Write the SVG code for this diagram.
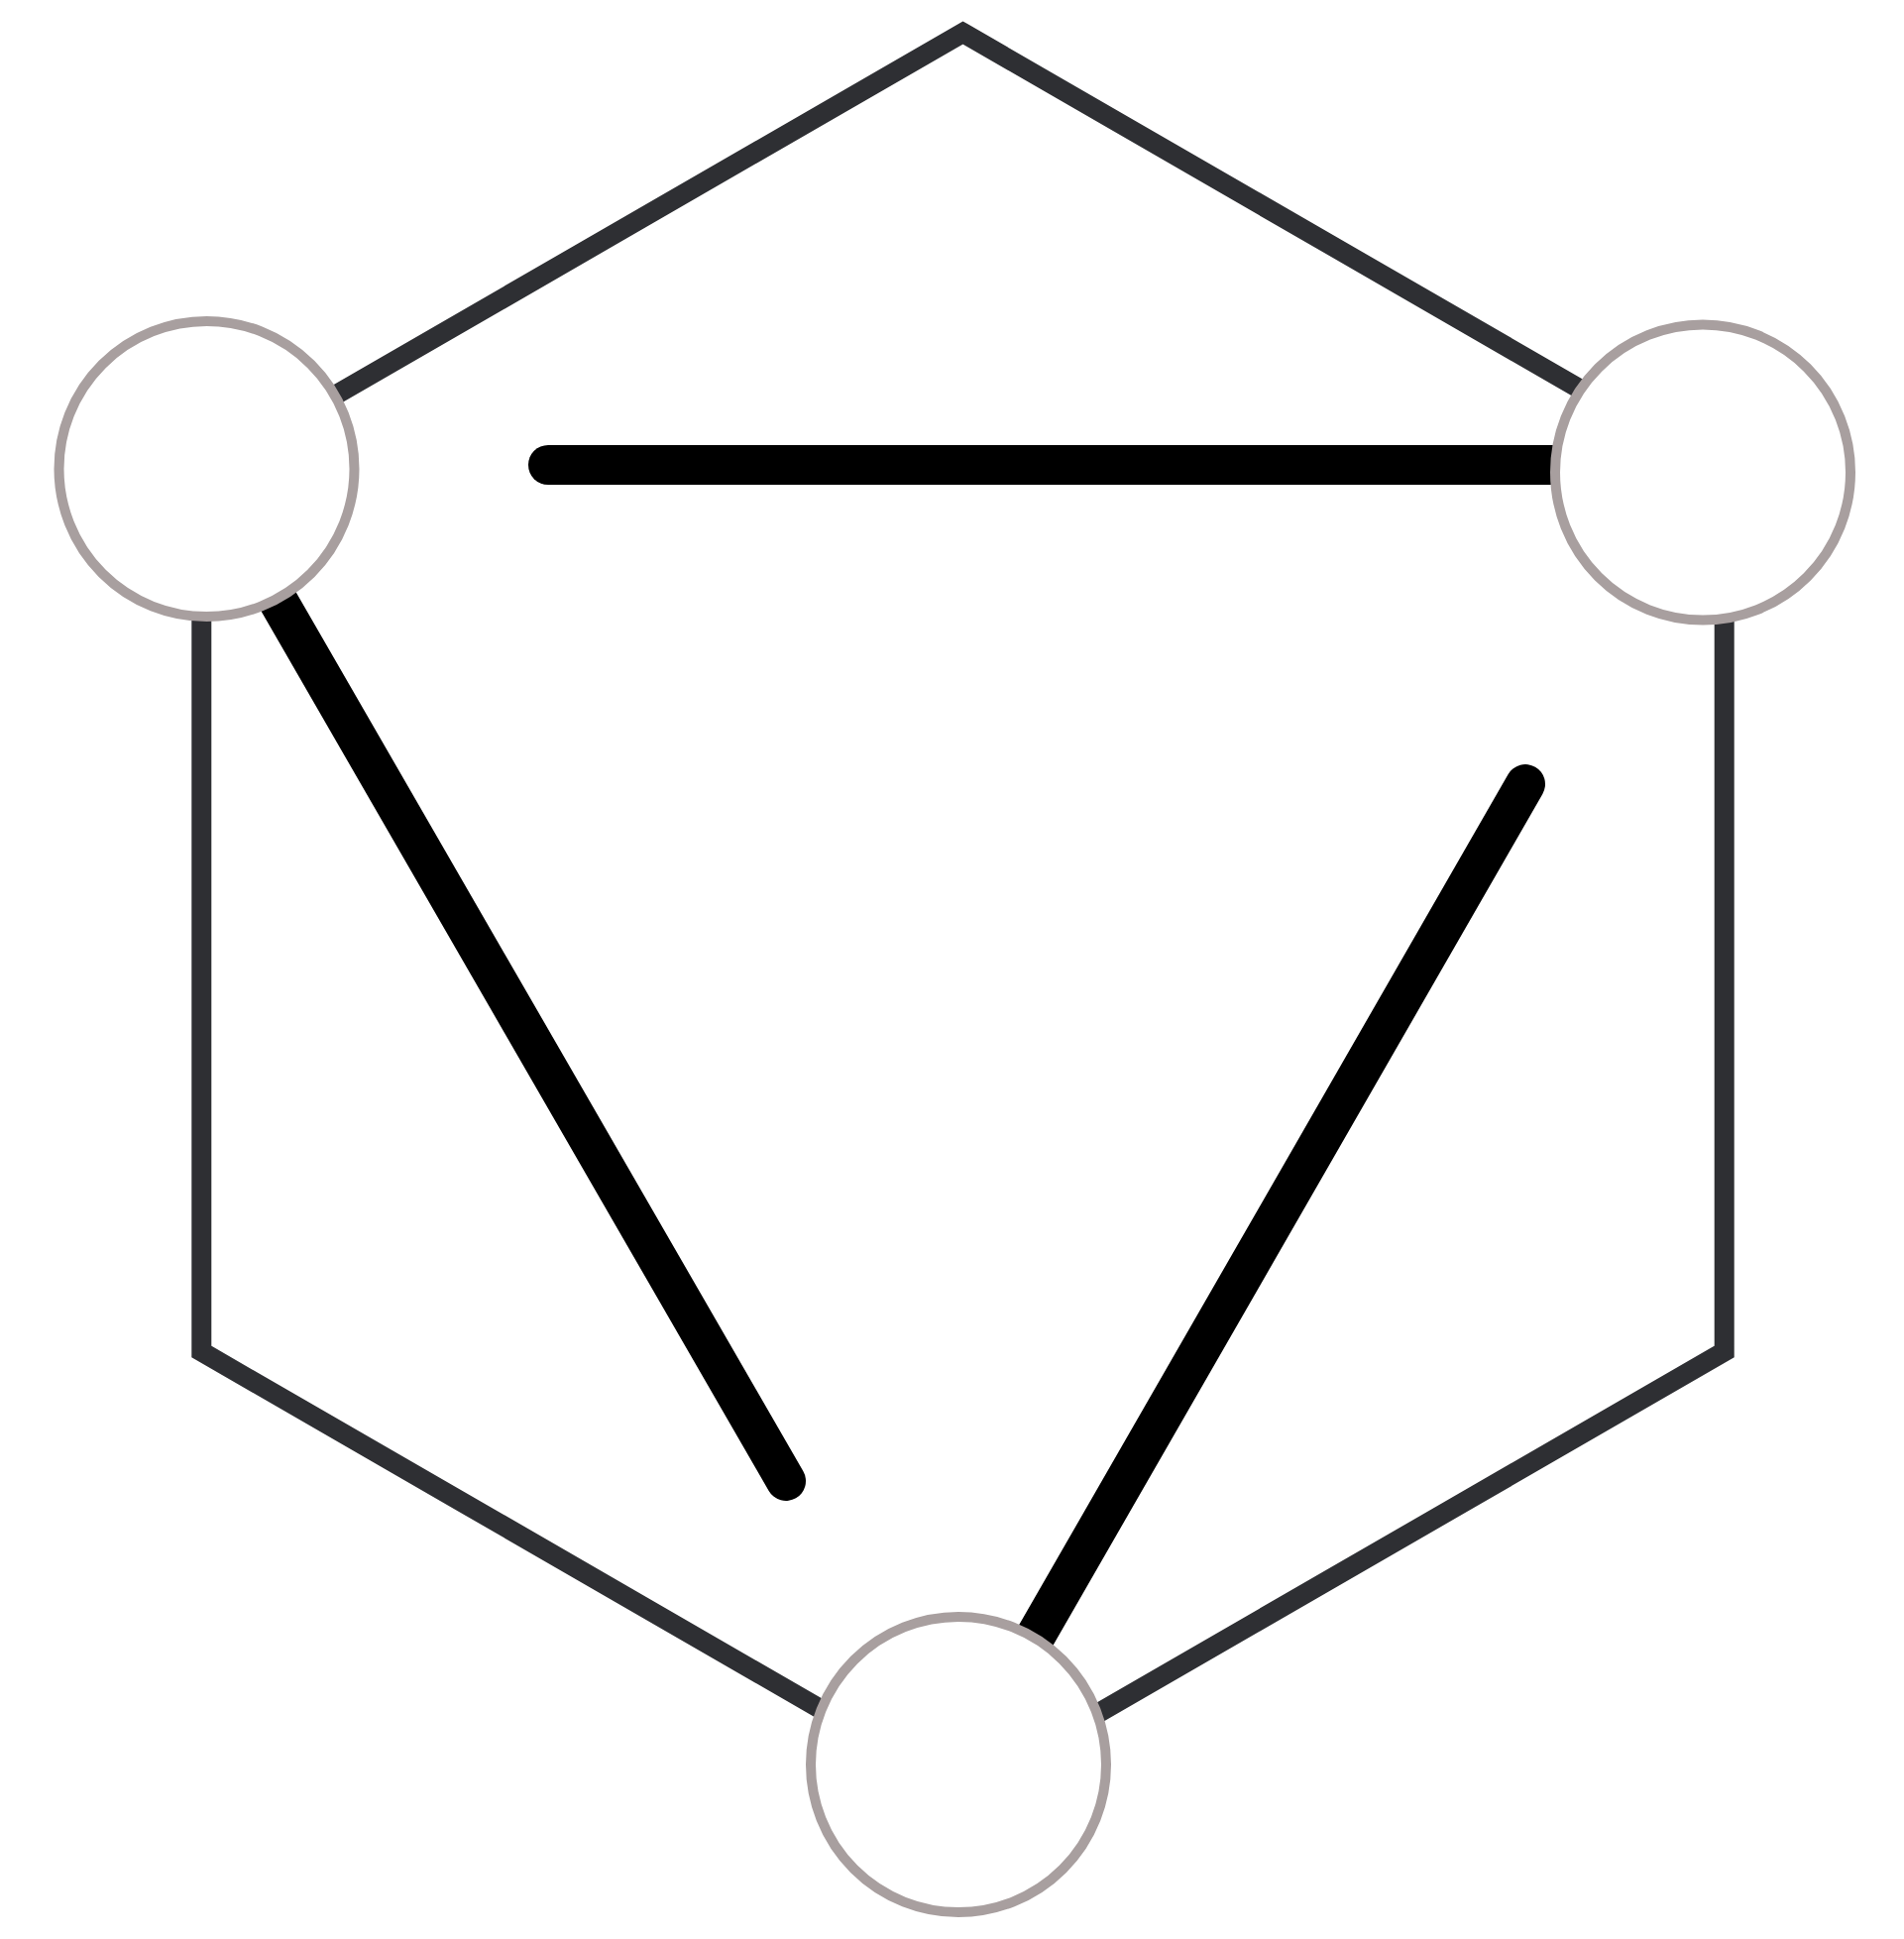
<svg xmlns="http://www.w3.org/2000/svg" width="1921" height="1956" viewBox="0 0 1921 1956">
<style>
.hex{fill:none;stroke:#2e2f33;stroke-width:20;stroke-linejoin:miter}
.bar{fill:none;stroke:#000;stroke-width:40;stroke-linecap:round}
.node{fill:#fff;stroke:#a89f9f;stroke-width:10}
</style>
<rect width="1921" height="1956" fill="#fff"/>
<g id="connectors">
<polygon class="hex" points="971.5,33 1739.7,476.5 1739.7,1363.5 971.5,1807 203.3,1363.5 203.3,476.5"/>
<line class="bar" x1="553" y1="469" x2="1710" y2="469"/>
<line class="bar" x1="217" y1="496" x2="793" y2="1494"/>
<line class="bar" x1="999" y1="1730" x2="1539" y2="791"/>
</g>
<g id="node-left"><circle class="node" cx="208.5" cy="473" r="149"/></g>
<g id="node-right"><circle class="node" cx="1718" cy="476.5" r="149"/></g>
<g id="node-bottom"><circle class="node" cx="967" cy="1780" r="149"/></g>
</svg>
